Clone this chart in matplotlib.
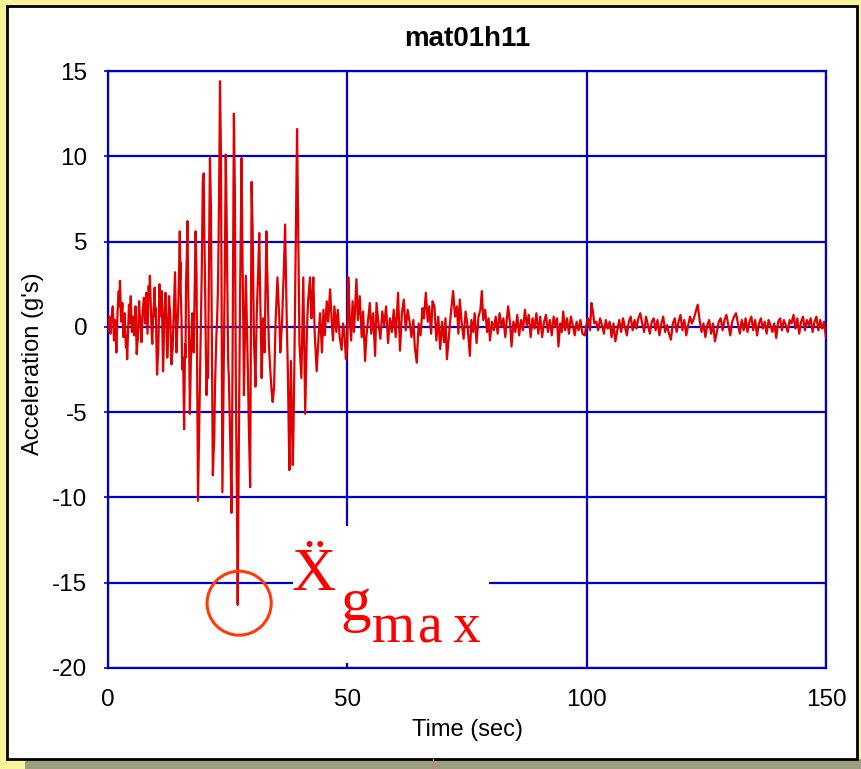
import numpy as np
import matplotlib
matplotlib.use('Agg')
import matplotlib.pyplot as plt
from matplotlib.patches import Ellipse, Rectangle

plt.rcParams['font.family'] = ['Liberation Sans', 'DejaVu Sans']
plt.rcParams['axes.unicode_minus'] = False

# ground acceleration record mat01h11 (g's)
# 0 - 13.9 s, one sample every 0.125 s
early_dt = 0.125
early_acc = [0.3, -0.2, 0.6, 0.1, -0.4, 0.2, 0.5, 0.9, 1.2, 0.1,
             -0.8, -0.3, 0.4, -0.6, -1.5, -0.2, 0.9, 1.6, 2.1, 1.2,
             2.7, 1.5, 0.3, 0.9, 1.4, 0.2, -0.6, 0.3, 0.8, -0.4,
             -1.2, -0.5, -1.9, -0.8, 0.5, 1.3, 1.0, 0.2, 1.8, 0.7,
             -0.3, 0.2, 0.6, -0.1, -0.5, 0.4, 1.2, -0.2, -1.6, -1.0,
             -0.7, 0.6, 1.5, 0.8, 0.4, -0.3, -0.9, 0.1, 0.9, 1.3,
             1.7, 0.9, 0.2, 1.1, 2.0, 0.8, -0.4, 1.0, 2.4, 1.6,
             3.0, 1.8, 0.5, -0.4, -1.0, 0.2, 0.8, 1.5, 2.3, 0.6,
             1.1, -1.2, -2.8, -2.0, -1.5, 0.4, 2.5, 1.7, 1.4, 0.6,
             2.1, -0.5, -2.6, -1.4, 0.6, 1.3, 2.0, 0.9, -0.3, -1.8,
             -1.0, 0.5, 1.8, 1.2, 0.8, -0.6, -2.2, -1.7, -1.3, -0.2,
             0.7, 2.0]

# strong motion 14 - 45 s (time, acc)
strong = [(14.0, 3.2), (14.15, 1.0), (14.3, -1.5), (14.45, -0.3), (14.6, 0.5),
          (14.8, 2.5), (15.0, 5.6), (15.1, 2.8), (15.15, 3.8), (15.2, 2.0),
          (15.35, 0.5), (15.5, -2.5), (15.7, -1.8), (15.9, -6.0), (16.0, -3.5),
          (16.1, -1.0), (16.2, -1.8), (16.3, 2.5), (16.45, 4.0), (16.6, 6.2),
          (16.7, 3.5), (16.8, 1.5), (16.95, -1.0), (17.1, -5.1), (17.2, -3.8),
          (17.3, -2.0), (17.45, -0.5), (17.6, 0.8), (17.75, 0.2), (17.9, -1.5),
          (18.1, 2.0), (18.3, 5.6), (18.4, 4.5), (18.5, 3.0), (18.65, -4.0),
          (18.8, -10.2), (18.9, -8.5), (19.0, -7.0), (19.15, -4.5), (19.3, -2.0),
          (19.45, 0.5), (19.6, 3.5), (19.8, 8.5), (20.0, 9.0), (20.15, 5.0),
          (20.3, 2.0), (20.45, -1.5), (20.6, -4.0), (20.75, -2.0), (20.9, -3.0),
          (21.1, 4.0), (21.3, 9.9), (21.4, 8.5), (21.5, 7.0), (21.7, -1.0),
          (21.9, -8.7), (22.05, -7.5), (22.2, -6.5), (22.35, -3.5), (22.5, -2.0),
          (22.65, -0.5), (22.8, 0.5), (22.95, 2.0), (23.1, 5.0), (23.25, 9.0),
          (23.4, 14.4), (23.5, 12.0), (23.6, 10.0), (23.75, 0.5), (23.9, -9.7),
          (24.0, -7.0), (24.1, -4.0), (24.25, -0.5), (24.4, 3.0), (24.5, 7.0),
          (24.6, 10.1), (24.7, 8.0), (24.8, 6.0), (24.95, 2.0), (25.1, -2.0),
          (25.25, -3.0), (25.4, -5.0), (25.6, -7.5), (25.8, -10.9), (25.9, -7.0),
          (26.0, -3.0), (26.15, 5.0), (26.3, 12.5), (26.4, 10.0), (26.5, 8.0),
          (26.6, 2.5), (26.7, -3.0), (26.9, -9.0), (27.1, -16.3), (27.2, -12.0),
          (27.3, -8.0), (27.45, -3.0), (27.6, 2.0), (27.75, 6.0), (27.9, 9.9),
          (28.0, 7.0), (28.1, 4.0), (28.25, 0.5), (28.4, -4.0), (28.6, -0.5),
          (28.8, 3.0), (28.95, 1.0), (29.1, -1.0), (29.25, -3.0), (29.4, -5.5),
          (29.55, -7.5), (29.7, -9.4), (29.85, 0.0), (30.0, 8.5), (30.1, 7.0),
          (30.2, 6.0), (30.35, 2.5), (30.5, -1.0), (30.65, -2.0), (30.8, -3.5),
          (30.95, -1.0), (31.1, 1.0), (31.35, 3.0), (31.6, 5.5), (31.7, 3.5),
          (31.8, 2.0), (31.95, -0.5), (32.1, -3.0), (32.25, -1.0), (32.4, 0.5),
          (32.55, -0.5), (32.7, -1.5), (32.9, 2.0), (33.1, 5.6), (33.2, 4.0),
          (33.3, 3.0), (33.45, 1.0), (33.6, -1.0), (33.8, -2.0), (34.0, -3.0),
          (34.2, -3.8), (34.4, -4.4), (34.55, -4.0), (34.7, -3.5), (34.85, -1.5),
          (35.0, 0.2), (35.2, 1.5), (35.4, 2.9), (35.55, 2.0), (35.7, 1.0),
          (35.85, 0.0), (36.0, -1.5), (36.2, -0.5), (36.4, 0.5), (36.55, 2.0),
          (36.7, 3.0), (36.85, 4.5), (37.0, 6.0), (37.15, 3.5), (37.3, 1.0),
          (37.45, -1.0), (37.6, -3.0), (37.75, -6.0), (37.9, -8.4), (38.05, -5.0),
          (38.2, -2.0), (38.4, -5.0), (38.6, -8.1), (38.75, -6.0), (38.9, -3.0),
          (39.05, 0.5), (39.2, 4.0), (39.35, 8.0), (39.5, 11.6), (39.6, 9.0),
          (39.7, 6.0), (39.85, 2.5), (40.0, -1.0), (40.2, -2.0), (40.4, -3.0),
          (40.6, 0.0), (40.8, 2.9), (41.0, -1.0), (41.2, -5.1), (41.35, -3.0),
          (41.5, -1.0), (41.65, 0.5), (41.8, 1.5), (42.0, 2.2), (42.2, 2.9),
          (42.35, 1.5), (42.5, 0.5), (42.7, 1.8), (42.9, 2.9), (43.05, 1.0),
          (43.2, -0.5), (43.4, -1.5), (43.6, -2.6), (43.75, -1.8), (43.9, -1.0),
          (44.1, 0.0), (44.3, 0.8), (44.5, -0.3), (44.7, -1.5), (44.85, -0.3),
          (45.0, 1.0)]

# decaying part 45 - 102 s (time, acc)
coda = [(45.3, -0.5), (45.7, 1.5), (46.0, 0.3), (46.4, 2.2), (46.7, 0.5),
        (47.0, -0.8), (47.3, 1.2), (47.7, -0.3), (48.0, 1.0), (48.4, -0.6),
        (48.8, -1.35), (49.1, 0.2), (49.4, -0.4), (49.7, -1.9), (50.0, -1.2),
        (50.2, 2.9), (50.5, 0.5), (50.8, -0.8), (51.1, 1.5), (51.4, -0.3),
        (51.9, 2.8), (52.2, 0.4), (52.6, 1.8), (53.0, -0.6), (53.3, 0.9),
        (53.7, -2.0), (54.0, -0.5), (54.4, 0.6), (54.7, 1.4), (55.0, -0.4),
        (55.4, 0.8), (55.8, -1.7), (56.1, 1.4), (56.5, 0.2), (56.9, -0.7),
        (57.3, 0.9), (57.7, 0.1), (58.1, 1.2), (58.5, -0.95), (58.9, 0.5),
        (59.3, -0.3), (59.7, 1.0), (60.1, -0.6), (60.6, 2.0), (61.0, -1.4),
        (61.4, 0.8), (61.8, 1.6), (62.2, -0.2), (62.6, 1.0), (63.0, 0.3),
        (63.4, -0.6), (63.8, 0.4), (64.1, -1.2), (64.5, -2.1), (64.9, 0.2),
        (65.3, -0.5), (65.7, 1.1), (66.0, 0.5), (66.4, 2.0), (66.8, 0.3),
        (67.1, 1.2), (67.5, -0.4), (67.8, 1.5), (68.2, 1.2), (68.6, -0.8),
        (69.0, 0.6), (69.4, -1.3), (69.8, 0.3), (70.2, -0.9), (70.5, 0.5),
        (70.8, -1.9), (71.2, -0.6), (71.6, 0.7), (72.1, 2.1), (72.5, 0.6),
        (72.9, 1.2), (73.2, -0.4), (73.5, 1.6), (73.9, 0.2), (74.3, -0.7),
        (74.7, 0.9), (75.1, 0.1), (75.6, -1.7), (75.9, 0.4), (76.3, -0.3),
        (76.6, 0.8), (77.0, -0.95), (77.4, 0.6), (77.8, 1.0), (78.1, 2.1),
        (78.4, 0.4), (78.8, 1.0), (79.2, -0.3), (79.5, 0.5), (79.8, -0.8),
        (80.2, 0.3), (80.6, -0.2), (81.0, 0.6), (81.4, -0.4), (81.8, 0.8),
        (82.2, 0.0), (82.6, 0.5), (83.0, -0.6), (83.3, 0.4), (83.6, 1.2),
        (84.0, 0.2), (84.3, -1.15), (84.7, 0.3), (85.1, -0.3), (85.5, 0.7),
        (85.9, -0.5), (86.3, 0.4), (86.7, -0.2), (87.1, 1.0), (87.5, 0.1),
        (87.9, 0.7), (88.3, -0.6), (88.7, 0.5), (89.1, -0.1), (89.5, 0.8),
        (89.9, -0.4), (90.3, 0.6), (90.7, -0.6), (91.1, 0.3), (91.5, 0.7),
        (91.9, -0.3), (92.3, 0.4), (92.7, -0.5), (93.1, 0.6), (93.5, 0.0),
        (93.8, 0.5), (94.1, -1.15), (94.5, 0.2), (94.8, -0.3), (95.1, 0.9),
        (95.5, -0.2), (95.9, 0.5), (96.3, -0.4), (96.7, 0.6), (97.1, 0.1),
        (97.5, -0.5), (97.9, 0.3), (98.3, -0.2), (98.7, 0.4), (99.1, -0.4),
        (99.6, -0.5), (100.0, 0.2), (100.3, 0.5), (100.7, -0.2), (101.0, 1.4),
        (101.3, 0.9), (101.6, 0.2)]

# tail 102 - 150 s, one sample every 0.4 s
tail_start = 102.0
tail_dt = 0.4
tail_acc = [0.3, -0.2, 0.5, 0.1, -0.4, 0.4, -0.1, 0.3, -0.6, 0.2,
            -0.85, -0.2, 0.4, -0.3, 0.5, 0.0, -0.5, 0.3, 0.6, -0.2,
            0.4, -0.1, 0.5, 0.8, 0.2, -0.3, 0.6, 0.1, -0.4, 0.3,
            0.5, -0.2, 0.4, -0.5, 0.2, 0.6, -0.3, 0.1, -0.4, -0.75,
            0.2, 0.5, -0.3, 0.3, 0.7, -0.2, 0.4, -0.5, 0.1, 0.6,
            0.2, 0.5, 0.9, 1.3, 0.4, -0.3, 0.2, -0.6, 0.1, 0.4,
            -0.4, 0.2, -0.85, -0.3, 0.3, 0.5, -0.2, 0.4, 0.7, 0.1,
            -0.5, 0.3, 0.6, 0.8, 0.2, -0.4, 0.4, -0.2, 0.5, -0.3,
            0.3, 0.6, -0.2, 0.4, -0.5, 0.2, 0.5, -0.1, 0.3, -0.4,
            0.4, 0.1, -0.3, 0.2, -0.65, 0.3, 0.5, -0.2, 0.4, 0.1,
            -0.3, 0.4, 0.2, 0.7, -0.1, 0.5, -0.4, 0.3, 0.6, -0.2,
            0.4, 0.1, 0.5, -0.3, 0.3, 0.6, -0.2, 0.4, -0.1, 0.3,
            -0.65]

yticks = [-20, -15, -10, -5, 0, 5, 10, 15]
xticks = [0, 50, 100, 150]

# stitch the pieces together
t1 = np.arange(len(early_acc)) * early_dt
t2, a2 = zip(*strong)
t3, a3 = zip(*coda)
t4 = tail_start + np.arange(len(tail_acc)) * tail_dt
time = np.concatenate([t1, t2, t3, t4])
acc = np.concatenate([early_acc, a2, a3, tail_acc])

blue = '#0000CC'
red = '#E00000'

fig = plt.figure(figsize=(8.61, 7.69), dpi=100, facecolor='#F7F49A')
W, H = 861.0, 769.0
# grey shadow at the bottom and white panel with a black frame (behind the axes)
fig.patches.append(Rectangle((25 / W, 0), 1 - 25 / W, 10 / H, transform=fig.transFigure,
                             facecolor='#9F9D80', edgecolor='none', zorder=-3))
fig.patches.append(Rectangle((7 / W, 10 / H), 850 / W, 753 / H, transform=fig.transFigure,
                             facecolor='white', edgecolor='black', linewidth=2, zorder=-2))
fig.lines.append(plt.Line2D([433 / W, 433 / W], [0, 10 / H], transform=fig.transFigure,
                            color='#C08080', linewidth=1, zorder=-1))

ax = fig.add_axes([108 / W, 1 - 668 / H, 718 / W, 597 / H])
ax.set_facecolor('white')
ax.plot(time, acc, color=red, linewidth=1.6, zorder=3)

ax.set_xlim(0, 150)
ax.set_ylim(-20, 15)
ax.set_xticks(xticks)
ax.set_yticks(yticks)
ax.grid(True, color=blue, linewidth=1.6, zorder=1)
ax.set_axisbelow(True)
for sp in ax.spines.values():
    sp.set_color(blue)
    sp.set_linewidth(1.6)
ax.tick_params(axis='y', direction='out', length=3, color=blue, width=1.2,
               labelsize=17.5, pad=12)
ax.tick_params(axis='x', direction='in', length=4, color=blue, width=1.2,
               labelsize=17.5, pad=15)

ax.set_title('mat01h11', fontsize=20, fontweight='bold', y=1.028)
ax.set_xlabel('Time (sec)', fontsize=17)
ax.set_ylabel("Acceleration (g's)", fontsize=17)
ax.xaxis.set_label_coords(0.5, -0.085)
ax.yaxis.set_label_coords(-0.089, 0.51)

# annotation: peak ground acceleration
ax.add_patch(Rectangle((38.6, -19.7), 41.0, 8.0, facecolor='white', edgecolor='none', zorder=2))
ax.add_patch(Ellipse((27.4, -16.2), 13.4, 3.75, fill=False, edgecolor='#FF3A0A',
                     linewidth=2.2, zorder=4))
serif = ['Liberation Serif', 'DejaVu Serif']
ax.text(38.4, -15.4, '\u1e8c', fontsize=44, color='red', family=serif,
        ha='left', va='baseline', zorder=5)
ax.text(48.5, -17.2, 'g', fontsize=44, color='red', family=serif,
        ha='left', va='baseline', zorder=5)
for xpos, ch in zip([55.2, 64.8, 71.9], 'max'):
    ax.text(xpos, -18.5, ch, fontsize=40, color='red', family=serif,
            ha='left', va='baseline', zorder=5)

fig.savefig('out.png', dpi=100, facecolor=fig.get_facecolor())
